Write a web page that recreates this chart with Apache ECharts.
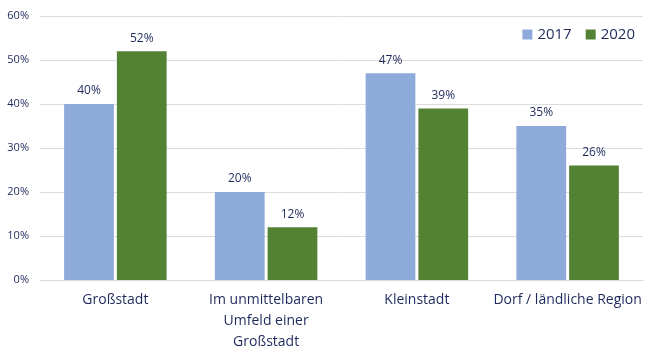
<!DOCTYPE html>
<html>
<head>
<meta charset="utf-8">
<script src="https://cdn.jsdelivr.net/npm/echarts@6/dist/echarts.min.js"></script>
<style>
  html, body { margin: 0; padding: 0; background: #fff; }
  #chart { width: 650px; height: 353px; }
</style>
</head>
<body>
<div id="chart"></div>
<script>
// Wohnort-Kategorien
var categories = ['Großstadt', 'Im unmittelbaren\nUmfeld einer\nGroßstadt', 'Kleinstadt', 'Dorf / ländliche Region'];
var values2017 = [40, 20, 47, 35];
var values2020 = [52, 12, 39, 26];
var yTicks = [0, 10, 20, 30, 40, 50, 60];

var textColor = '#1f2a5c';
var fontFam = '"Open Sans", "Liberation Sans", sans-serif';

var myChart = echarts.init(document.getElementById('chart'));
var option = {
  animation: false,
  textStyle: { fontFamily: fontFam },
  legend: {
    data: ['2017', '2020'],
    right: 10,
    top: 22,
    itemWidth: 10,
    itemHeight: 10,
    itemGap: 14,
    icon: 'rect',
    textStyle: { color: textColor, fontSize: 15, fontFamily: fontFam }
  },
  grid: {
    left: 40,
    right: 7,
    top: 16,
    bottom: 74 - 5
  },
  xAxis: {
    type: 'category',
    data: categories,
    axisTick: { show: false },
    axisLine: { lineStyle: { color: '#d9d9d9' } },
    axisLabel: {
      color: textColor,
      fontSize: 14,
      lineHeight: 21,
      margin: 10,
      interval: 0
    }
  },
  yAxis: {
    type: 'value',
    min: yTicks[0],
    max: yTicks[yTicks.length - 1],
    interval: 10,
    axisLabel: {
      color: textColor,
      fontSize: 11,
      margin: 11,
      formatter: '{value}%'
    },
    axisLine: { show: false },
    axisTick: { show: false },
    splitLine: { lineStyle: { color: '#dcdcdc' } }
  },
  series: [
    {
      name: '2017',
      type: 'bar',
      data: values2017,
      barGap: '6%',
      barCategoryGap: '32%',
      itemStyle: { color: '#8eaadb' },
      label: {
        show: true,
        position: 'top',
        distance: 7,
        formatter: '{c}%',
        color: textColor,
        fontSize: 12
      }
    },
    {
      name: '2020',
      type: 'bar',
      data: values2020,
      itemStyle: { color: '#548235' },
      label: {
        show: true,
        position: 'top',
        distance: 7,
        formatter: '{c}%',
        color: textColor,
        fontSize: 12
      }
    }
  ]
};
myChart.setOption(option);
</script>
</body>
</html>
